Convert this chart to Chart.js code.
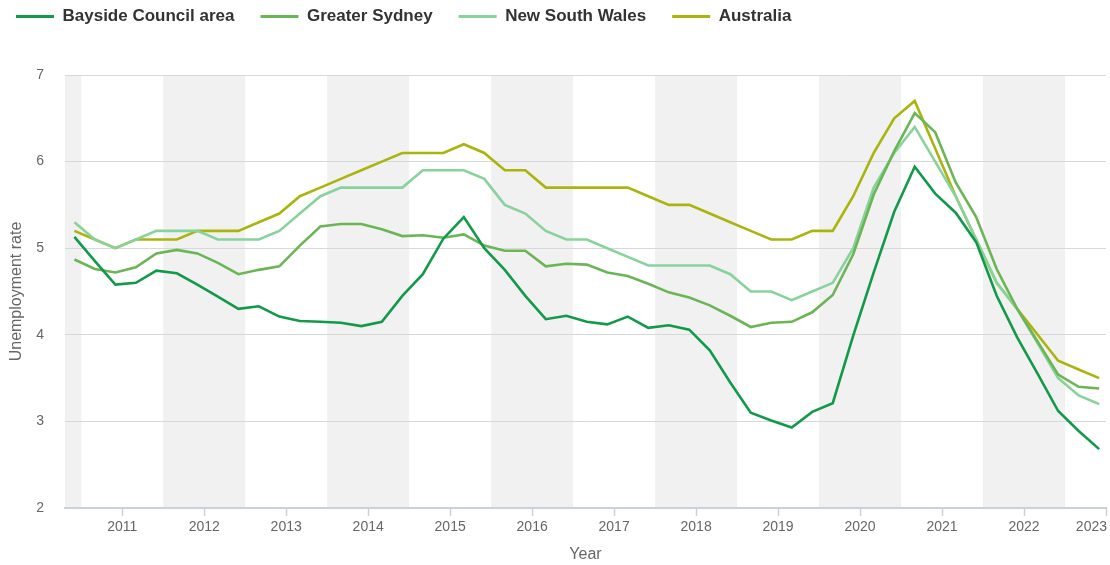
<!DOCTYPE html>
<html>
<head>
<meta charset="utf-8">
<script src="https://cdn.jsdelivr.net/npm/chart.js@4.4.1/dist/chart.umd.min.js"></script>
<style>
  html, body { margin: 0; padding: 0; background: #ffffff; }
  #wrap { position: relative; width: 1110px; height: 565px; }
</style>
</head>
<body>
<div id="wrap"><canvas id="c" width="1110" height="565"></canvas></div>
<script>
// ---- Data ----
const quarters = [
  "Dec 2010",
  "Mar 2011","Jun 2011","Sep 2011","Dec 2011",
  "Mar 2012","Jun 2012","Sep 2012","Dec 2012",
  "Mar 2013","Jun 2013","Sep 2013","Dec 2013",
  "Mar 2014","Jun 2014","Sep 2014","Dec 2014",
  "Mar 2015","Jun 2015","Sep 2015","Dec 2015",
  "Mar 2016","Jun 2016","Sep 2016","Dec 2016",
  "Mar 2017","Jun 2017","Sep 2017","Dec 2017",
  "Mar 2018","Jun 2018","Sep 2018","Dec 2018",
  "Mar 2019","Jun 2019","Sep 2019","Dec 2019",
  "Mar 2020","Jun 2020","Sep 2020","Dec 2020",
  "Mar 2021","Jun 2021","Sep 2021","Dec 2021",
  "Mar 2022","Jun 2022","Sep 2022","Dec 2022",
  "Mar 2023","Jun 2023"
];

const bayside = [
  5.13, 4.85, 4.58, 4.60, 4.74, 4.71, 4.58, 4.44, 4.30, 4.33,
  4.21, 4.16, 4.15, 4.14, 4.10, 4.15, 4.45, 4.70, 5.11, 5.36,
  5.00, 4.75, 4.45, 4.18, 4.22, 4.15, 4.12, 4.21, 4.08, 4.11,
  4.06, 3.82, 3.45, 3.10, 3.01, 2.93, 3.11, 3.21, 3.99, 4.72,
  5.42, 5.94, 5.63, 5.41, 5.07, 4.45, 3.97, 3.55, 3.12, 2.89,
  2.68
];

const greaterSydney = [
  4.87, 4.76, 4.72, 4.78, 4.94, 4.98, 4.94, 4.83, 4.70, 4.75,
  4.79, 5.03, 5.25, 5.28, 5.28, 5.22, 5.14, 5.15, 5.12, 5.16,
  5.03, 4.97, 4.97, 4.79, 4.82, 4.81, 4.72, 4.68, 4.59, 4.49,
  4.43, 4.34, 4.22, 4.09, 4.14, 4.15, 4.26, 4.46, 4.93, 5.62,
  6.12, 6.56, 6.34, 5.76, 5.36, 4.76, 4.30, 3.92, 3.54, 3.40,
  3.38
];

const newSouthWales = [
  5.3, 5.1, 5.0, 5.1, 5.2, 5.2, 5.2, 5.1, 5.1, 5.1,
  5.2, 5.4, 5.6, 5.7, 5.7, 5.7, 5.7, 5.9, 5.9, 5.9,
  5.8, 5.5, 5.4, 5.2, 5.1, 5.1, 5.0, 4.9, 4.8, 4.8,
  4.8, 4.8, 4.7, 4.5, 4.5, 4.4, 4.5, 4.6, 5.0, 5.7,
  6.1, 6.4, 6.0, 5.6, 5.1, 4.6, 4.3, 3.9, 3.5, 3.3,
  3.2
];

const australia = [
  5.2, 5.1, 5.0, 5.1, 5.1, 5.1, 5.2, 5.2, 5.2, 5.3,
  5.4, 5.6, 5.7, 5.8, 5.9, 6.0, 6.1, 6.1, 6.1, 6.2,
  6.1, 5.9, 5.9, 5.7, 5.7, 5.7, 5.7, 5.7, 5.6, 5.5,
  5.5, 5.4, 5.3, 5.2, 5.1, 5.1, 5.2, 5.2, 5.6, 6.1,
  6.5, 6.7, 6.15, 5.6, 5.1, 4.6, 4.3, 4.0, 3.7, 3.6,
  3.5
];

const seriesNames = ["Bayside Council area", "Greater Sydney", "New South Wales", "Australia"];
const tickYears = [2011, 2012, 2013, 2014, 2015, 2016, 2017, 2018, 2019, 2020, 2021, 2022, 2023];
const shadedYears = [2010, 2012, 2014, 2016, 2018, 2020, 2022];
const yTicks = [2, 3, 4, 5, 6, 7];

// ---- Build library structures ----
const monthIdx = {Jan:0,Feb:1,Mar:2,Apr:3,May:4,Jun:5,Jul:6,Aug:7,Sep:8,Oct:9,Nov:10,Dec:11};
function qToX(q) {
  const [m, y] = q.split(" ");
  return Number(y) + monthIdx[m] / 12;
}
const xs = quarters.map(qToX);
function pts(arr) { return arr.map((v, i) => ({ x: xs[i], y: v })); }

const colors = ["#12994a", "#6cb556", "#88d29c", "#a9b50c"];
const values = [bayside, greaterSydney, newSouthWales, australia];

const datasets = values.map((arr, i) => ({
  label: seriesNames[i],
  data: pts(arr),
  borderColor: colors[i],
  backgroundColor: colors[i],
  borderWidth: 2.6,
  pointRadius: 0,
  pointHoverRadius: 0,
  tension: 0,
  fill: false
}));

const FONT = "'Liberation Sans', Arial, Helvetica, sans-serif";

const bandsPlugin = {
  id: 'yearBands',
  beforeDraw(chart) {
    const { ctx, chartArea, scales } = chart;
    const xsc = scales.x;
    ctx.save();
    ctx.fillStyle = '#f1f1f1';
    shadedYears.forEach(y => {
      let a = xsc.getPixelForValue(y);
      let b = xsc.getPixelForValue(y + 1);
      a = Math.max(a, chartArea.left);
      b = Math.min(b, chartArea.right);
      if (b > a) ctx.fillRect(a, chartArea.top, b - a, chartArea.bottom - chartArea.top);
    });
    ctx.restore();
  }
};

const legendTweak = {
  id: 'legendTweak',
  beforeLayout(chart) {
    const lg = chart.legend;
    if (lg && !lg._tweaked) {
      lg._tweaked = true;
      const origFit = lg.fit;
      lg.fit = function () {
        origFit.call(this);
        this.height = 75;
      };
      const origDraw = lg.draw;
      lg.draw = function () {
        const t = this.top, l = this.left;
        this.top = t - 18;
        this.left = l - 10;
        origDraw.apply(this, arguments);
        this.top = t;
        this.left = l;
      };
    }
  },
  afterLayout(chart) {
    const s = chart.scales.x;
    if (s && !s._lastLabelTweak) {
      s._lastLabelTweak = true;
      const orig = s._computeLabelItems;
      s._computeLabelItems = function (ca) {
        const items = orig.call(this, ca);
        const last = items[items.length - 1];
        if (last && last.options) {
          last.options.textAlign = 'right';
          if (last.options.translation) last.options.translation[0] = chart.width - 3;
        }
        return items;
      };
    }
  }
};

new Chart(document.getElementById('c'), {
  type: 'line',
  data: { datasets },
  plugins: [bandsPlugin, legendTweak],
  options: {
    responsive: false,
    animation: false,
    devicePixelRatio: 1,
    layout: { padding: { left: 0, right: 4, top: 0, bottom: 0 } },
    plugins: {
      tooltip: { enabled: false },
      legend: {
        display: true,
        position: 'top',
        align: 'start',
        labels: {
          boxWidth: 38,
          boxHeight: 3,
          padding: 26,
          color: '#333333',
          font: { family: FONT, size: 17, weight: 'bold' },
          generateLabels(chart) {
            return chart.data.datasets.map((ds, i) => ({
              text: ds.label,
              fillStyle: ds.borderColor,
              strokeStyle: ds.borderColor,
              lineWidth: 0,
              hidden: false,
              datasetIndex: i,
              fontColor: '#333333'
            }));
          }
        }
      }
    },
    scales: {
      x: {
        type: 'linear',
        min: 2010.802,
        max: 2023.5,
        afterBuildTicks(scale) {
          scale.ticks = tickYears.map(y => ({ value: y + 0.5 }));
        },
        afterFit(scale) {
          scale.height = 57;
          scale.paddingLeft = 0;
          scale.paddingRight = 0;
        },
        ticks: {
          autoSkip: false,
          maxRotation: 0,
          padding: 3,
          color: '#666666',
          font: { family: FONT, size: 14 },
          callback(value) { return String(Math.floor(value)); }
        },
        grid: {
          drawOnChartArea: false,
          drawTicks: true,
          tickLength: 8,
          tickColor: '#c9d1df',
          tickWidth: 1.5
        },
        border: { display: true, color: '#c9d1df', width: 2 },
        title: {
          display: true,
          text: 'Year',
          color: '#666666',
          font: { family: FONT, size: 16 },
          padding: { top: 0, bottom: 1 }
        }
      },
      y: {
        type: 'linear',
        min: 2,
        max: 7,
        afterBuildTicks(scale) {
          scale.ticks = yTicks.map(v => ({ value: v }));
        },
        afterFit(scale) {
          scale.width = 65;
        },
        ticks: {
          padding: 21,
          color: '#666666',
          font: { family: FONT, size: 14 }
        },
        grid: {
          drawTicks: false,
          color: '#d8d8d8',
          lineWidth: 1
        },
        border: { display: false },
        title: {
          display: true,
          text: 'Unemployment rate',
          color: '#666666',
          font: { family: FONT, size: 16 },
          padding: { top: 7, bottom: 0 }
        }
      }
    }
  }
});
</script>
</body>
</html>
